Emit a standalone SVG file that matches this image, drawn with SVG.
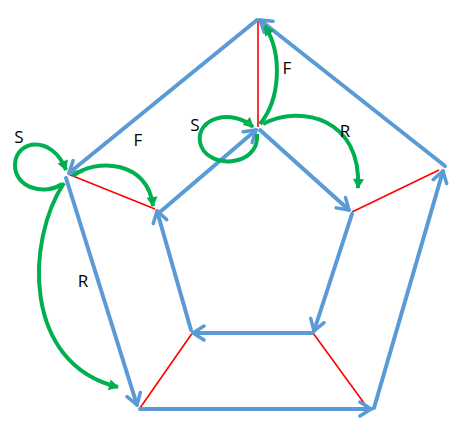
<svg xmlns="http://www.w3.org/2000/svg" width="464" height="428" viewBox="0 0 464 428">
<defs>
<marker id="ba" viewBox="-13 -9 15 18" markerWidth="15" markerHeight="18" refX="0" refY="0" orient="auto" markerUnits="userSpaceOnUse">
<path d="M-11,-7 L0,0 L-11,7" fill="none" stroke="#5B9BD5" stroke-width="3.5" stroke-linecap="round" stroke-linejoin="round"/>
</marker>
<marker id="ga" viewBox="-10 -6 12 12" markerWidth="12" markerHeight="12" refX="0" refY="0" orient="auto" markerUnits="userSpaceOnUse">
<path d="M-9,-5.5 L1,0 L-9,5.5 Z" fill="#00B050"/>
</marker>
<style>
.b{fill:none;stroke:#5B9BD5;stroke-width:4;stroke-linecap:round;marker-end:url(#ba)}
.r{fill:none;stroke:#FF0000;stroke-width:1.6}
.g{fill:none;stroke:#00B050;stroke-width:4;marker-end:url(#ga)}
.t{font-family:"Open Sans","Liberation Sans",sans-serif;font-size:17px;fill:#000;text-anchor:middle}
</style>
</defs>
<rect width="464" height="428" fill="#fff"/>
<g id="connectors">
<line class="r" x1="258" y1="20" x2="258" y2="127"/>
<line class="r" x1="68" y1="174" x2="155" y2="209"/>
<line class="r" x1="439" y1="170" x2="352" y2="212"/>
<line class="r" x1="140" y1="408" x2="193" y2="332"/>
<line class="r" x1="313" y1="333" x2="364" y2="403"/>
<path class="b" d="M257,20 L69,173"/>
<path class="b" d="M66,178 L137,405"/>
<path class="b" d="M140,409 L371,409"/>
<path class="b" d="M374,408 L443,171"/>
<path class="b" d="M445,166 L260,20"/>
<path class="b" d="M160,212 L256,130"/>
<path class="b" d="M260,130 L349,210"/>
<path class="b" d="M352,214 L314,331"/>
<path class="b" d="M312,333 L193,333"/>
<path class="b" d="M191,330 L157,211"/>
<path class="g" d="M62,184 C45,196 14,188 15,164 C16,140 52,134 66,170"/>
<path class="g" d="M73,176 C95,158 148,160 153,206"/>
<path class="g" d="M64,183 C26,240 22,364 118,387"/>
<path class="g" d="M257,134 C260,168 205,170 200,142 C196,118 232,108 253,127"/>
<path class="g" d="M260,124 C280,100 283,55 265,26"/>
<path class="g" d="M263,124 C300,104 362,118 358,188"/>
</g>
<g id="labels">
<text class="t" x="19" y="143">S</text>
<text class="t" x="138" y="146">F</text>
<text class="t" x="83" y="287">R</text>
<text class="t" x="195" y="131">S</text>
<text class="t" x="287" y="74">F</text>
<text class="t" x="345" y="137">R</text>
</g>
</svg>
